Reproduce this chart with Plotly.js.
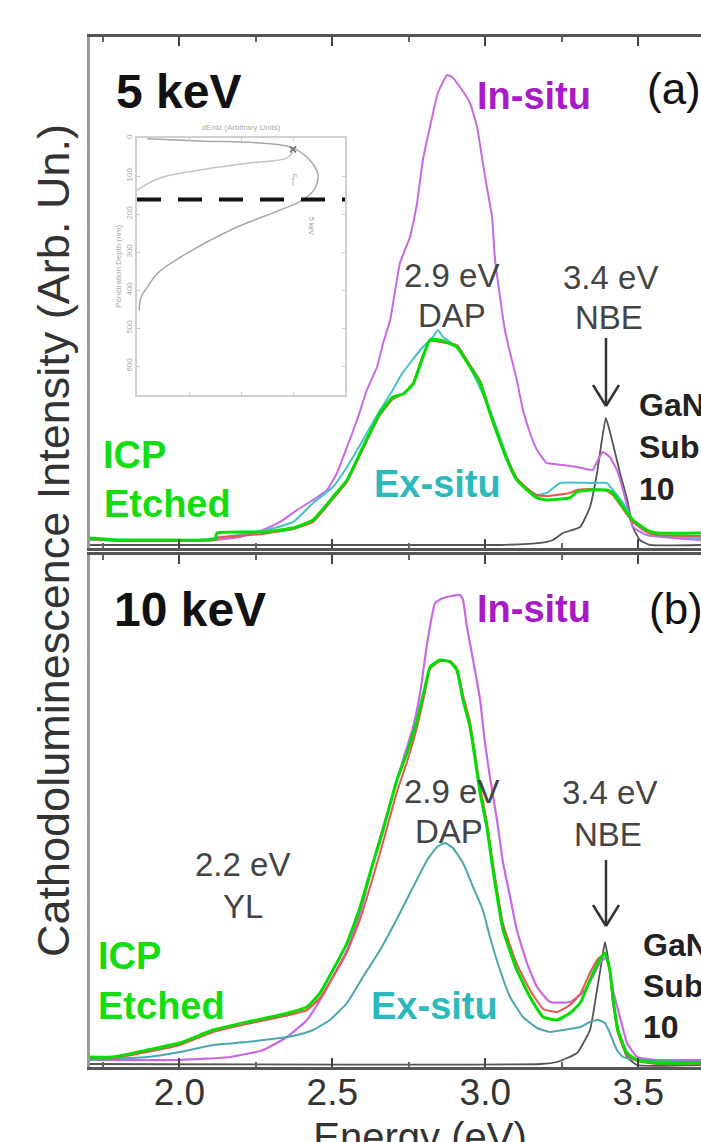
<!DOCTYPE html>
<html>
<head>
<meta charset="utf-8">
<script src="https://cdn.plot.ly/plotly-3.0.1.min.js"></script>
<style>
html,body{margin:0;padding:0;overflow:hidden;background:#fff;}
#chart{width:760px;height:1180px;}
</style>
</head>
<body>
<div id="chart"></div>
<script>
// ---------- Panel (a): 5 keV ----------
const a_insitu_E = [1.708,2.110,2.198,2.274,2.329,2.385,2.437,2.483,2.515,2.548,2.581,2.613,2.646,2.666,2.689,2.721,2.754,2.777,2.796,2.819,2.845,2.875,2.891,2.917,2.950,2.973,2.992,3.005,3.022,3.031,3.048,3.064,3.081,3.103,3.123,3.146,3.169,3.201,3.254,3.299,3.351,3.368,3.384,3.407,3.430,3.450,3.464,3.482,3.528,3.705];
const a_insitu_I = [1.4,1.4,2.0,3.4,5.0,7.4,9.4,11.4,14.8,20.0,25.4,31.4,36.0,40.8,45.4,56.8,62.0,68.8,77.4,84.0,90.8,94.4,94.0,92.0,88.8,84.0,76.8,72.0,66.0,58.0,50.0,43.4,38.8,33.4,27.4,22.8,19.4,16.8,16.4,16.0,15.4,17.4,19.0,18.0,15.4,11.4,8.0,4.0,2.4,1.4];

const a_exsitu_E = [1.708,2.068,2.287,2.372,2.437,2.502,2.548,2.600,2.656,2.698,2.721,2.754,2.796,2.829,2.845,2.862,2.907,2.950,3.015,3.071,3.103,3.136,3.169,3.201,3.244,3.342,3.397,3.417,3.450,3.482,3.515,3.548,3.705];
const a_exsitu_I = [1.4,1.4,3.4,5.0,8.8,12.0,16.0,21.4,27.4,31.4,34.0,36.8,40.0,42.0,43.4,42.0,40.0,36.0,27.4,18.0,13.4,11.4,10.4,10.8,12.8,12.8,12.8,11.4,8.8,5.4,3.4,2.4,1.8];

const a_icp_E = [1.708,1.806,1.937,2.117,2.123,2.274,2.372,2.437,2.502,2.548,2.600,2.656,2.698,2.731,2.764,2.796,2.819,2.852,2.907,2.950,2.983,3.015,3.038,3.071,3.103,3.136,3.169,3.201,3.276,3.299,3.342,3.397,3.417,3.450,3.482,3.528,3.561,3.705];
const a_icp_I = [1.8,1.4,1.4,1.6,2.8,3.0,3.8,5.4,10.0,13.4,20.0,26.8,30.0,30.6,32.6,38.0,41.4,41.4,40.0,36.0,32.8,26.8,22.8,17.4,13.4,11.4,9.8,9.4,9.8,11.0,11.4,11.4,10.8,8.0,5.4,3.4,2.8,2.8];
const a_red_I = [1.6,1.2,1.2,1.4,1.8,2.6,3.6,5.0,9.6,13.0,19.6,26.4,29.6,30.6,32.8,38.4,41.2,41.0,40.4,36.4,33.2,27.2,23.0,17.8,13.8,11.8,10.4,10.2,10.8,11.4,11.6,11.2,10.4,7.6,5.0,3.0,2.4,2.2];

const a_gan_E = [1.708,3.048,3.179,3.221,3.254,3.310,3.342,3.365,3.381,3.394,3.414,3.440,3.464,3.482,3.505,3.538,3.705];
const a_gan_I = [0.4,0.4,0.8,1.4,2.8,4.0,8.0,14.8,21.4,25.8,21.4,14.8,9.4,4.0,1.4,0.4,0.4];

// ---------- Panel (b): 10 keV ----------
const b_insitu_E = [1.708,2.002,2.166,2.274,2.352,2.417,2.460,2.502,2.548,2.591,2.633,2.666,2.699,2.731,2.764,2.787,2.810,2.836,2.862,2.917,2.927,2.940,2.960,2.983,2.999,3.015,3.038,3.058,3.081,3.103,3.136,3.169,3.211,3.277,3.316,3.342,3.374,3.397,3.417,3.440,3.463,3.496,3.561,3.705];
const b_insitu_I = [1.4,1.4,2.0,3.4,6.0,9.4,13.4,18.0,23.4,30.8,40.8,48.0,54.8,61.4,68.0,74.8,84.8,92.8,93.8,94.4,93.4,88.0,81.4,73.4,64.8,58.0,49.4,40.8,34.0,27.4,20.8,16.0,13.0,13.0,14.8,17.0,20.8,22.0,15.4,10.0,4.8,2.0,1.4,1.4];

const b_exsitu_E = [1.708,1.895,2.002,2.110,2.221,2.329,2.385,2.437,2.492,2.548,2.600,2.656,2.721,2.764,2.810,2.842,2.868,2.894,2.927,2.960,2.992,3.015,3.048,3.081,3.123,3.169,3.211,3.254,3.310,3.342,3.368,3.391,3.407,3.430,3.450,3.496,3.705];
const b_exsitu_I = [1.4,2.0,3.0,4.4,5.0,5.8,6.4,7.4,9.4,12.8,18.0,23.4,30.8,36.0,41.4,44.0,44.8,43.8,40.8,36.0,31.4,26.0,19.4,14.0,10.0,7.8,7.0,7.4,8.0,9.0,9.4,8.8,6.8,3.4,2.0,1.4,1.0];

const b_icp_E = [1.708,1.783,1.895,2.002,2.110,2.221,2.329,2.417,2.460,2.502,2.548,2.591,2.633,2.666,2.711,2.744,2.777,2.803,2.819,2.852,2.885,2.907,2.927,2.950,2.967,2.983,3.005,3.025,3.058,3.103,3.146,3.189,3.234,3.277,3.310,3.342,3.368,3.391,3.407,3.417,3.433,3.463,3.496,3.561,3.705];
const b_icp_I = [2.0,2.0,3.4,4.8,7.4,9.0,10.4,12.0,14.8,19.4,24.8,32.0,40.8,47.4,57.4,62.8,69.4,76.0,80.0,81.4,81.0,79.4,73.4,68.0,61.4,54.8,48.0,39.4,27.4,19.4,14.0,10.0,9.4,10.8,12.8,17.4,20.8,22.8,19.4,14.0,7.4,2.8,1.4,0.8,0.8];
const b_red_I = [1.8,1.8,3.0,4.4,7.0,8.6,10.0,11.4,13.8,18.0,23.0,29.6,38.0,45.0,55.0,61.0,68.0,75.0,79.6,81.2,81.2,79.8,74.4,69.0,62.4,56.0,49.0,40.6,28.6,20.6,15.4,11.6,11.0,12.4,14.6,18.8,21.6,22.6,19.0,13.2,6.8,2.4,1.2,0.6,0.6];

const b_gan_E = [1.708,3.179,3.234,3.300,3.342,3.365,3.381,3.391,3.407,3.417,3.440,3.463,3.496,3.705];
const b_gan_I = [0.6,0.6,1.0,2.8,7.4,15.4,21.4,25.0,19.4,12.8,6.0,2.0,0.4,0.4];

// ---------- Inset: energy deposition vs penetration depth ----------
const inset_curveA_dEdz = [0.05,0.30,0.59,0.75,0.83,0.87,0.85,0.78,0.69,0.45,0.21,0.10,0.05,0.02,0.01];
const inset_curveA_depth = [2,8,13,26,58,97,137,168,189,242,313,355,392,418,453];
const inset_curveB_dEdz = [0.0,0.11,0.30,0.54,0.72,0.75];
const inset_curveB_depth = [137,105,84,66,53,37];
const inset_marker_dEdz = [0.75];
const inset_marker_depth = [30];
const inset_dash_depth = 162;
const inset_depth_ticks = [0,100,200,300,400,500,600];

const xTicks = [2.0,2.5,3.0,3.5];
const xTickText = ['2.0','2.5','3.0','3.5'];
const xMinorTicks = [1.75,2.25,2.75,3.25,3.75];

const FONT = 'Liberation Sans, Arial, Helvetica, sans-serif';
const C_PURPLE = '#c968e6', C_PURPLE_T = '#a81ac8';
const C_TEAL_A = '#45c2c8', C_TEAL_B = '#4aa7ae', C_TEAL_T = '#2cb9bd';
const C_GREEN = '#00dd00', C_RED = '#e4574f', C_GRAY = '#555555';

function tr(x, y, xa, ya, color, width, name) {
  return {x: x, y: y, xaxis: xa, yaxis: ya, type: 'scatter', mode: 'lines', name: name,
    line: {color: color, width: width, shape: 'spline', smoothing: 0.4}, hoverinfo: 'skip'};
}

const traces = [
  tr(a_gan_E, a_gan_I, 'x2', 'y2', C_GRAY, 1.8, 'GaN Sub. a'),
  tr(a_insitu_E, a_insitu_I, 'x2', 'y2', C_PURPLE, 2, 'In-situ a'),
  tr(a_exsitu_E, a_exsitu_I, 'x2', 'y2', C_TEAL_A, 2, 'Ex-situ a'),
  tr(a_icp_E, a_red_I, 'x2', 'y2', C_RED, 2, 'ref a'),
  tr(a_icp_E, a_icp_I, 'x2', 'y2', C_GREEN, 3, 'ICP a'),
  tr(b_gan_E, b_gan_I, 'x', 'y', C_GRAY, 1.8, 'GaN Sub. b'),
  tr(b_insitu_E, b_insitu_I, 'x', 'y', C_PURPLE, 2.2, 'In-situ b'),
  tr(b_exsitu_E, b_exsitu_I, 'x', 'y', C_TEAL_B, 2, 'Ex-situ b'),
  tr(b_icp_E, b_red_I, 'x', 'y', C_RED, 2, 'ref b'),
  tr(b_icp_E, b_icp_I, 'x', 'y', C_GREEN, 3, 'ICP b'),
  {x: inset_curveB_dEdz, y: inset_curveB_depth, xaxis: 'x3', yaxis: 'y3', mode: 'lines',
   line: {color: '#c4c4c4', width: 1.5, shape: 'spline'}, hoverinfo: 'skip'},
  {x: inset_curveA_dEdz, y: inset_curveA_depth, xaxis: 'x3', yaxis: 'y3', mode: 'lines',
   line: {color: '#a8a8a8', width: 1.5, shape: 'spline'}, hoverinfo: 'skip'},
  {x: inset_marker_dEdz, y: inset_marker_depth, xaxis: 'x3', yaxis: 'y3', mode: 'markers',
   marker: {symbol: 'x-thin', size: 6, line: {color: '#777', width: 2}}, hoverinfo: 'skip'}
];

// pixel -> paper helpers for the plot area (left 90, right 750, top 37, bottom 1067)
const PL = 90, PW = 660, PB = 1067, PH = 1030;
const px = v => (v - PL) / PW;
const py = v => (PB - v) / PH;

function txt(t, x, y, size, color, bold, xanchor) {
  return {text: bold ? '<b>' + t + '</b>' : t, xref: 'paper', yref: 'paper', x: px(x), y: py(y),
    xanchor: xanchor || 'center', yanchor: 'middle', showarrow: false,
    font: {family: FONT, size: size, color: color}};
}

const annotations = [
  txt('5 keV', 114, 92, 48, '#111', true, 'left'),
  txt('10 keV', 112, 609, 48, '#111', true, 'left'),
  txt('(a)', 645, 89, 44, '#111', false, 'left'),
  txt('(b)', 647, 608, 44, '#111', false, 'left'),
  txt('In-situ', 475, 96, 38, C_PURPLE_T, true, 'left'),
  txt('In-situ', 475, 609, 38, C_PURPLE_T, true, 'left'),
  txt('2.9 eV', 451, 275, 33, '#444', false),
  txt('DAP', 452, 316, 33, '#444', false),
  txt('3.4 eV', 610, 277, 33, '#444', false),
  txt('NBE', 609, 317, 33, '#444', false),
  txt('2.9 eV', 451, 791, 33, '#444', false),
  txt('DAP', 449, 831, 33, '#444', false),
  txt('3.4 eV', 609, 793, 33, '#444', false),
  txt('NBE', 608, 834, 33, '#444', false),
  txt('2.2 eV', 242, 864, 33, '#444', false),
  txt('YL', 243, 906, 33, '#444', false),
  txt('GaN', 637, 405, 32, '#222', true, 'left'),
  txt('Sub.', 637, 447, 32, '#222', true, 'left'),
  txt('10', 637, 489, 32, '#222', true, 'left'),
  txt('GaN', 641, 945, 32, '#222', true, 'left'),
  txt('Sub.', 641, 986, 32, '#222', true, 'left'),
  txt('10', 641, 1027, 32, '#222', true, 'left'),
  txt('ICP', 101, 455, 38, '#11dd11', true, 'left'),
  txt('Etched', 102, 504, 38, '#11dd11', true, 'left'),
  txt('ICP', 96, 956, 38, '#11dd11', true, 'left'),
  txt('Etched', 96, 1006, 38, '#11dd11', true, 'left'),
  txt('Ex-situ', 372, 484, 38, C_TEAL_T, true, 'left'),
  txt('Ex-situ', 369, 1006, 38, C_TEAL_T, true, 'left'),
  {text: 'Cathodoluminescence Intensity (Arb. Un.)', xref: 'paper', yref: 'paper',
   x: px(53), y: py(541), xanchor: 'center', yanchor: 'middle', textangle: -90, showarrow: false,
   font: {family: FONT, size: 45, color: '#333'}},
  {text: '5 keV', xref: 'paper', yref: 'paper', x: px(311), y: py(215), textangle: 90, showarrow: false,
   font: {family: FONT, size: 7, color: '#999'}},
  {text: 'E<sub>max</sub>', xref: 'paper', yref: 'paper', x: px(289), y: py(172), textangle: 90, showarrow: false,
   font: {family: FONT, size: 6, color: '#999'}}
];

function arrowShapes(x, yTop, yTip) {
  const c = {color: '#333', width: 2.5};
  return [
    {type: 'line', xref: 'paper', yref: 'paper', x0: px(x), x1: px(x), y0: py(yTop), y1: py(yTip), line: c},
    {type: 'line', xref: 'paper', yref: 'paper', x0: px(x - 13), x1: px(x), y0: py(yTip - 21), y1: py(yTip), line: c},
    {type: 'line', xref: 'paper', yref: 'paper', x0: px(x + 13), x1: px(x), y0: py(yTip - 21), y1: py(yTip), line: c}
  ];
}

const shapes = [].concat(
  arrowShapes(606, 338, 406),
  arrowShapes(606, 860, 926),
  [{type: 'line', xref: 'x3 domain', yref: 'y3', x0: 0, x1: 1, y0: inset_dash_depth, y1: inset_dash_depth,
    line: {color: '#111', width: 4, dash: '24px,17px'}}]
);

const xCommon = {
  range: [1.708, 3.865], tickvals: xTicks, ticktext: xTickText, ticks: 'inside', ticklen: 9, tickwidth: 2,
  tickcolor: '#444', showline: true, linecolor: '#555', linewidth: 3, mirror: 'ticks',
  showgrid: false, zeroline: false,
  minor: {tickvals: xMinorTicks, ticks: 'inside', ticklen: 5, tickwidth: 2, tickcolor: '#666'}
};
const yCommon = {showline: true, linecolor: '#9a9a9a', linewidth: 3, showticklabels: false, ticks: '',
  showgrid: false, zeroline: false};

const layout = {
  width: 760, height: 1180,
  margin: {l: PL, r: 10, t: 37, b: 113},
  paper_bgcolor: '#fff', plot_bgcolor: '#fff',
  showlegend: false,
  font: {family: FONT, color: '#333'},
  xaxis: Object.assign({}, xCommon, {anchor: 'y', domain: [0, 1],
    tickfont: {family: FONT, size: 37, color: '#333'}, ticklabelstandoff: -9,
    title: {text: 'Energy (eV)', font: {family: FONT, size: 40, color: '#333'}, standoff: 11}}),
  yaxis: Object.assign({}, yCommon, {domain: [0, 0.4971], range: [0, 102.4]}),
  xaxis2: Object.assign({}, xCommon, {anchor: 'y2', domain: [0, 1], showticklabels: false}),
  yaxis2: Object.assign({}, yCommon, {domain: [0.5039, 1], range: [-0.2, 102]}),
  xaxis3: {anchor: 'y3', domain: [px(137), px(345)], range: [0, 1], side: 'top',
    showline: true, mirror: 'ticks', linecolor: '#d0d0d0', linewidth: 2, ticks: 'inside', ticklen: 3,
    tickcolor: '#ccc', dtick: 0.25, showticklabels: false, showgrid: false, zeroline: false,
    title: {text: 'dE/dz (Arbitrary Units)', font: {family: FONT, size: 8, color: '#aaa'}, standoff: 4}},
  yaxis3: {anchor: 'x3', domain: [py(395), py(138)], range: [676, 0],
    showline: true, mirror: 'ticks', linecolor: '#d0d0d0', linewidth: 2, ticks: 'inside', ticklen: 3,
    tickcolor: '#ccc', tickvals: inset_depth_ticks, tickfont: {family: FONT, size: 8, color: '#aaa'},
    tickangle: -90, showgrid: false, zeroline: false,
    title: {text: 'Penetration Depth (nm)', font: {family: FONT, size: 8, color: '#aaa'}, standoff: 2}},
  annotations: annotations,
  shapes: shapes
};

Plotly.newPlot('chart', traces, layout, {staticPlot: true, displayModeBar: false});
</script>
</body>
</html>
